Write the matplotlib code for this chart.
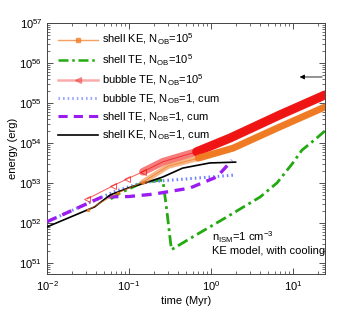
import matplotlib
matplotlib.use('Agg')
import matplotlib.pyplot as plt
from matplotlib.lines import Line2D
import numpy as np

plt.rcParams['font.family'] = ['Liberation Sans', 'DejaVu Sans']
plt.rcParams['mathtext.fontset'] = 'custom'
plt.rcParams['mathtext.rm'] = 'Liberation Sans'
plt.rcParams['mathtext.it'] = 'Liberation Sans:italic'
plt.rcParams['mathtext.bf'] = 'Liberation Sans:bold'

# time (Myr) and log10 energy (erg)
t_bub5 = [0.031, 0.064, 0.095, 0.148, 0.26, 0.67, 1.7, 6.9, 24.6]
e_bub5 = [52.6, 52.93, 53.1, 53.28, 53.53, 53.78, 54.12, 54.7, 55.2]

t_skE5 = [0.032, 0.073, 0.148, 0.3, 0.7, 1.86, 6.9, 24.6]
e_skE5 = [52.33, 52.75, 53.02, 53.42, 53.62, 53.87, 54.4, 54.9]

t_stE5 = [0.06, 0.078, 0.144, 0.24, 0.26, 0.29, 0.32, 0.33, 0.6, 1.57,
          2.5, 4.0, 6.4, 10.0, 12.9, 18.5, 24.6]
e_stE5 = [52.6, 52.75, 53.0, 53.07, 53.05, 52.3, 51.55, 51.33, 51.65, 52.15,
          52.4, 52.65, 53.0, 53.5, 53.82, 54.08, 54.3]

t_bub1 = [0.01, 0.047, 0.07, 0.14, 0.18, 0.5, 1.0, 2.0]
e_bub1 = [52.03, 52.65, 52.8, 53.0, 53.03, 53.1, 53.15, 53.2]

t_stE1 = [0.01, 0.047, 0.1, 0.2, 0.55, 1.18, 1.48, 1.8]
e_stE1 = [52.03, 52.65, 52.66, 52.72, 52.87, 53.15, 53.37, 53.57]

t_skE1 = [0.01, 0.038, 0.059, 0.1, 0.157, 0.26, 0.45, 0.97, 2.0]
e_skE1 = [51.9, 52.4, 52.7, 52.88, 53.0, 53.15, 53.37, 53.5, 53.52]

labels = [r'shell KE, N$_{\rm OB}$=10$^5$',
          r'shell TE, N$_{\rm OB}$=10$^5$',
          r'bubble TE, N$_{\rm OB}$=10$^5$',
          r'bubble TE, N$_{\rm OB}$=1, cum',
          r'shell TE, N$_{\rm OB}$=1, cum',
          r'shell KE, N$_{\rm OB}$=1, cum']

c_orange = '#f07820'
c_green = '#22aa10'
c_red = '#f01010'
c_blue = '#7080ff'
c_purple = '#9a1cf0'

fig = plt.figure(figsize=(3.59, 3.09), dpi=100)
ax = fig.add_axes([0.131, 0.113, 0.774, 0.8125])


def pw(e):
    return 10 ** np.asarray(e)


tb, eb = np.array(t_bub5), pw(e_bub5)
to, eo = np.array(t_skE5), pw(e_skE5)

# thin early parts with markers
ax.plot(tb, eb, color=c_red, lw=0.7, alpha=0.7, marker='<', ms=4,
        mfc='none', mec=c_red, mew=0.7, markevery=[0, 1, 2, 3], zorder=4)
ax.plot(to, eo, color=c_orange, lw=0.7, alpha=0.7, marker='s', ms=1.8,
        mec=c_orange, markevery=[0, 1, 2], zorder=4)

# overlapping markers form bands: pale where sparse, solid where dense
bands = [(c_red, tb, eb, 0.148, 0.67, 5.5, 6.5),
         (c_orange, to, eo, 0.148, 0.7, 4.0, 5.0)]
for col, tt, ee, t_pale, t_solid, lw_pale, lw_solid in bands:
    m = tt >= t_pale
    ax.plot(tt[m], ee[m], color=col, lw=lw_pale, alpha=0.55, zorder=4,
            solid_capstyle='round')
    m = tt >= t_solid
    ax.plot(tt[m], ee[m], color=col, lw=lw_solid, alpha=0.95, zorder=4,
            solid_capstyle='round')

ax.plot(t_stE5, pw(e_stE5), color=c_green, lw=2.0, ls=(0, (4, 1.5, 1, 1.5)),
        zorder=3)
ax.plot(t_bub1, pw(e_bub1), color=c_blue, lw=2.2, ls=(0, (0.5, 1)), zorder=3)
ax.plot(t_stE1, pw(e_stE1), color=c_purple, lw=2.4, ls=(0, (3, 2)), zorder=3)
ax.plot(t_skE1, pw(e_skE1), color='black', lw=1.2, zorder=3)

ax.set_xscale('log')
ax.set_yscale('log')
ax.set_xlim(0.01, 24.6)
ax.set_ylim(10 ** 50.72, 1e57)
ax.set_yticks([1e51, 1e52, 1e53, 1e54, 1e55, 1e56, 1e57])
ax.tick_params(which='both', direction='in', top=True, right=True,
               labelsize=8, colors='#333333', labelcolor='black')
ax.tick_params(which='major', length=4, width=0.6)
ax.tick_params(which='minor', length=2, width=0.5)
for s in ax.spines.values():
    s.set_linewidth(0.7)
    s.set_color('#444444')

ax.set_xlabel('time (Myr)', fontsize=8, labelpad=2)
ax.set_ylabel('energy (erg)', fontsize=8, labelpad=1)

handles = [
    Line2D([], [], color=c_orange, lw=1.0, alpha=0.7, marker='s', ms=2.5),
    Line2D([], [], color=c_green, lw=1.8, ls=(0, (4, 1.5, 1, 1.5))),
    Line2D([], [], color=c_red, lw=1.8, alpha=0.35, marker='<', ms=4,
           mfc=c_red, mec=c_red),
    Line2D([], [], color=c_blue, lw=2.2, ls=(0, (0.5, 1)), alpha=0.7),
    Line2D([], [], color=c_purple, lw=2.2, ls=(0, (3, 2))),
    Line2D([], [], color='black', lw=1.2),
]
ax.legend(handles, labels, loc='upper left', frameon=False, fontsize=8,
          handlelength=3.6, handletextpad=0.4, labelspacing=0.42,
          borderaxespad=0.3, bbox_to_anchor=(0.01, 0.995))

ax.annotate('', xy=(11.2, 10 ** 55.65), xytext=(1.0, 10 ** 55.65),
            textcoords=('axes fraction', 'data'),
            arrowprops=dict(arrowstyle='-|>', color='black', lw=0.6,
                            mutation_scale=7))

ax.text(0.594, 0.147, r'n$_{\rm ISM}$=1 cm$^{-3}$', transform=ax.transAxes,
        fontsize=8, ha='left', va='center')
ax.text(0.594, 0.092, 'KE model, with cooling', transform=ax.transAxes,
        fontsize=8, ha='left', va='center')

fig.savefig('out.png', dpi=100)
